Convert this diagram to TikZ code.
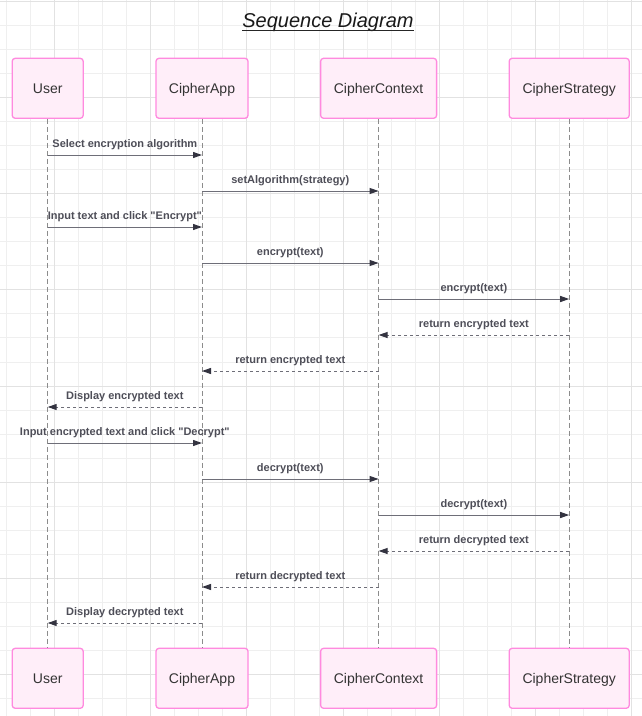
\documentclass[tikz,border=0pt]{standalone}
\usepackage{fontspec}
\setmainfont{Liberation Sans}
\usetikzlibrary{arrows.meta}
\definecolor{boxfill}{HTML}{FFEEF9}
\definecolor{boxline}{HTML}{FF8ADF}
\definecolor{gridlo}{HTML}{EFEFEF}
\definecolor{gridhi}{HTML}{E2E2E2}
\definecolor{msgline}{HTML}{6E6E78}
\definecolor{tipcol}{HTML}{333340}
\definecolor{lblcol}{HTML}{4E4E58}
\tikzset{
actor/.style={draw=boxline,fill=boxfill,line width=1.3pt,rounded corners=3pt,minimum height=60pt,inner sep=0pt,text height=10pt,text depth=0pt,font=\fontsize{14}{16}\selectfont,text=black!80},
lifeline/.style={draw=black!45,dash pattern=on 5pt off 3pt,line width=.9pt},
call/.style={draw=msgline,line width=1pt,-{Triangle[length=9pt,width=6pt,color=tipcol]}},
reply/.style={call,dash pattern=on 3pt off 3pt},
msglabel/.style={midway,anchor=base,yshift=7.5pt,inner sep=0pt,text=lblcol,font=\bfseries\fontsize{11}{13}\selectfont}
}
\begin{document}
\begin{tikzpicture}[x=1pt,y=-1pt]
\useasboundingbox[fill=white] (0,0) rectangle (642,716);
% grid
\foreach \k in {0,...,26} \draw[gridlo,line width=.7pt] (6.2+24.05*\k,0) -- ++(0,716);
\foreach \k in {0,...,29} \draw[gridlo,line width=.7pt] (0,1.1+24.05*\k) -- ++(642,0);
\foreach \k in {0,...,6} \draw[gridhi,line width=.8pt] (54.3+96.2*\k,0) -- ++(0,716);
\foreach \k in {0,...,7} \draw[gridhi,line width=.8pt] (0,1.1+96.2*\k) -- ++(642,0);
% title
\node[anchor=base,inner sep=0pt,text=black!90,font=\itshape\fontsize{20}{24}\selectfont] (title) at (328,27.3) {Sequence Diagram};
\draw[black!85,line width=1pt] ([yshift=-3.4pt]title.base west) -- ([yshift=-3.4pt]title.base east);
% participants
\foreach \n/\x/\w/\t in {u/47.7/71/User,a/202/92/CipherApp,c/378.6/116/CipherContext,s/569.2/120/CipherStrategy}{
\node[actor,minimum width=\w] (\n-top) at (\x,88.3) {\t};
\node[actor,minimum width=\w] (\n-bot) at (\x,678.3) {\t};
}
\foreach \n in {u,a,c,s} \draw[lifeline] (\n-top) -- (\n-bot);
% messages
\foreach \f/\t/\y/\lab/\st [count=\i] in {
u/a/155/Select encryption algorithm/call,
a/c/191/setAlgorithm(strategy)/call,
u/a/227/Input text and click \textquotedbl Encrypt\textquotedbl/call,
a/c/263/encrypt(text)/call,
c/s/299/encrypt(text)/call,
s/c/335/return encrypted text/reply,
c/a/371/return encrypted text/reply,
a/u/407/Display encrypted text/reply,
u/a/443/Input encrypted text and click \textquotedbl Decrypt\textquotedbl/call,
a/c/479/decrypt(text)/call,
c/s/515/decrypt(text)/call,
s/c/551/return decrypted text/reply,
c/a/587/return decrypted text/reply,
a/u/623/Display decrypted text/reply}{
\coordinate (m\i) at (0,\y);
\draw[\st] (\f-top |- m\i) -- node[msglabel] (lab\i) {\lab} (\t-top |- m\i);
}
\end{tikzpicture}
\end{document}
